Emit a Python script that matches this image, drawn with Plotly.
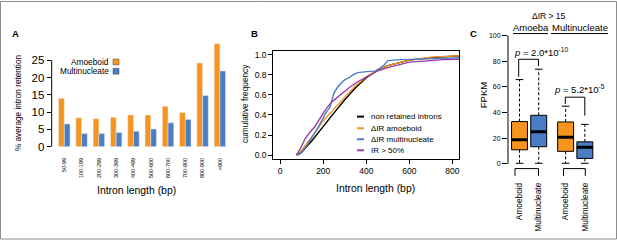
import plotly.graph_objects as go

W, H = 617, 246
FONT = "Liberation Sans, Arial, Helvetica, sans-serif"

# ---------------- data ----------------
# Panel A
length_bins = ["50-99", "100-199", "200-299", "300-399", "400-499",
               "500-600", "600-700", "700-800", "800-900", ">900"]
ir_amoeboid = [14.0, 8.4, 8.1, 8.5, 9.2, 9.2, 11.7, 9.9, 24.2, 29.8]
ir_multinucleate = [6.6, 3.8, 3.8, 4.1, 4.5, 5.1, 6.9, 7.9, 14.8, 21.9]
a_yticks = [0, 5, 10, 15, 20, 25]

# Panel B (cumulative frequency curves)
nonret_x = [80, 100, 150, 200, 250, 300, 350, 400, 450, 500, 600, 700, 800, 850]
nonret_y = [0.0, 0.03, 0.15, 0.29, 0.42, 0.55, 0.67, 0.77, 0.84, 0.89, 0.945, 0.97, 0.985, 0.99]
amoe_x = [78, 100, 150, 200, 250, 300, 350, 400, 450, 500, 600, 700, 800, 850]
amoe_y = [0.0, 0.05, 0.19, 0.34, 0.46, 0.58, 0.69, 0.78, 0.845, 0.89, 0.945, 0.975, 0.985, 0.99]
multi_x = [75, 100, 125, 150, 175, 200, 215, 230, 240, 250, 265, 280, 300, 320, 340,
           360, 400, 440, 460, 480, 500, 560, 650, 750, 850]
multi_y = [0.0, 0.03, 0.10, 0.18, 0.27, 0.37, 0.43, 0.47, 0.55, 0.62, 0.67, 0.71, 0.75, 0.77, 0.80,
           0.82, 0.83, 0.835, 0.86, 0.89, 0.94, 0.95, 0.955, 0.965, 0.97]
ir50_x = [75, 95, 115, 135, 160, 185, 210, 240, 280, 320, 360, 400, 450, 500, 550,
          600, 700, 760, 850]
ir50_y = [0.0, 0.07, 0.16, 0.22, 0.28, 0.36, 0.45, 0.53, 0.60, 0.67, 0.73, 0.78, 0.835, 0.87, 0.90,
          0.925, 0.94, 0.95, 0.955]
b_xticks = [0, 200, 400, 600, 800]
b_yticks = [0.0, 0.2, 0.4, 0.6, 0.8, 1.0]

# Panel C (boxplots)
box_labels = ["Amoeboid", "Multinucleate", "Amoeboid", "Multinucleate"]
box_pos = [1, 2, 3.4, 4.4]
box_q1 = [11.0, 13.4, 9.8, 4.3]
box_med = [18.9, 25.0, 20.8, 12.9]
box_q3 = [33.0, 37.9, 32.7, 17.2]
box_low = [0.5, 0.5, 0.5, 0.5]
box_up = [65.7, 73.8, 45.0, 30.8]
c_yticks = [0, 20, 40, 60, 80, 100]

ORANGE = "#F7941E"
BLUE = "#4A7DC4"
PURPLE = "#9A3EA6"
box_colors = [ORANGE, BLUE, ORANGE, BLUE]


def P(x):
    return x / W


def Q(y):
    return 1 - y / H


fig = go.Figure()

# ---------- Panel A ----------
fig.add_trace(go.Bar(x=length_bins, y=ir_amoeboid, marker_color=ORANGE,
                     xaxis="x", yaxis="y", showlegend=False))
fig.add_trace(go.Bar(x=length_bins, y=ir_multinucleate, marker_color=BLUE,
                     xaxis="x", yaxis="y", showlegend=False))

# ---------- Panel B ----------
for xs, ys, col in [(nonret_x, nonret_y, "black"), (amoe_x, amoe_y, ORANGE),
                    (multi_x, multi_y, BLUE), (ir50_x, ir50_y, PURPLE)]:
    fig.add_trace(go.Scatter(x=xs, y=ys, mode="lines", line=dict(color=col, width=1.4),
                             xaxis="x2", yaxis="y2", showlegend=False, hoverinfo="skip"))

# ---------- Panel C ----------
for i in range(len(box_pos)):
    fig.add_trace(go.Box(x=[box_pos[i]], q1=[box_q1[i]], median=[box_med[i]], q3=[box_q3[i]],
                         lowerfence=[box_q1[i]], upperfence=[box_q3[i]],
                         width=0.83, whiskerwidth=0, fillcolor=box_colors[i],
                         line=dict(color="black", width=1),
                         xaxis="x3", yaxis="y3", showlegend=False, hoverinfo="skip"))
    # dashed whiskers
    fig.add_trace(go.Scatter(x=[box_pos[i], box_pos[i], None, box_pos[i], box_pos[i]],
                             y=[box_q3[i], box_up[i], None, box_q1[i], box_low[i]],
                             mode="lines", line=dict(color="black", width=1, dash="3px,2px"),
                             xaxis="x3", yaxis="y3", showlegend=False, hoverinfo="skip"))
    # caps
    fig.add_trace(go.Scatter(x=[box_pos[i] - 0.2, box_pos[i] + 0.2, None,
                                box_pos[i] - 0.2, box_pos[i] + 0.2],
                             y=[box_up[i], box_up[i], None, box_low[i], box_low[i]],
                             mode="lines", line=dict(color="black", width=1),
                             xaxis="x3", yaxis="y3", showlegend=False, hoverinfo="skip"))
    # thick median
    fig.add_trace(go.Scatter(x=[box_pos[i] - 0.415, box_pos[i] + 0.415],
                             y=[box_med[i], box_med[i]],
                             mode="lines", line=dict(color="black", width=3),
                             xaxis="x3", yaxis="y3", showlegend=False, hoverinfo="skip"))

tickfont = dict(family=FONT, color="black")

fig.update_layout(
    width=W, height=H,
    margin=dict(l=0, r=0, t=0, b=0),
    paper_bgcolor="white", plot_bgcolor="rgba(0,0,0,0)",
    font=dict(family=FONT, color="black"),
    barmode="group", bargap=0.34, bargroupgap=0,
    boxmode="overlay",
    xaxis=dict(domain=[P(51.7), P(232)], range=[-0.73, 9.7], type="category",
               showline=False, showgrid=False, zeroline=False, ticks="",
               tickangle=-90, tickfont=dict(tickfont, size=5.5), ticklabelstandoff=9,
               anchor="y"),
    yaxis=dict(domain=[Q(150), Q(40)], range=[0, 30.9], showline=False, showgrid=False,
               zeroline=False, ticks="outside", ticklen=4, tickcolor="black",
               tickvals=a_yticks, tickfont=dict(tickfont, size=11.5), anchor="x"),
    xaxis2=dict(domain=[P(273.3), P(459.3)], range=[-32, 832], showline=True, mirror=True,
                linecolor="black", linewidth=1, showgrid=False, zeroline=False,
                ticks="outside", ticklen=4, tickcolor="black", tickvals=b_xticks,
                tickfont=dict(tickfont, size=8.5), anchor="y2"),
    yaxis2=dict(domain=[Q(162.8), Q(51)], range=[-0.04, 1.04], showline=True, mirror=True,
                linecolor="black", linewidth=1, showgrid=False, zeroline=False,
                ticks="outside", ticklen=4, tickcolor="black", tickvals=b_yticks,
                tickformat=".1f", tickfont=dict(tickfont, size=8.5), anchor="x2"),
    xaxis3=dict(domain=[P(508), P(600)], range=[0.4, 5.19], showline=False, showgrid=False,
                zeroline=False, ticks="", tickvals=box_pos, ticktext=box_labels,
                tickangle=-90, tickfont=dict(tickfont, size=8.3), ticklabelstandoff=12,
                anchor="y3"),
    yaxis3=dict(domain=[Q(172), Q(30)], range=[-3.25, 104.2], showline=False, showgrid=False,
                zeroline=False, ticks="outside", ticklen=5, tickcolor="black",
                tickvals=c_yticks, tickfont=dict(tickfont, size=7), anchor="x3"),
)

shapes = []
# A axis line (0..25)
shapes.append(dict(type="line", xref="paper", yref="y", x0=P(51.7), x1=P(51.7),
                   y0=a_yticks[0], y1=a_yticks[-1], line=dict(color="black", width=1)))
# C axis line (0..100)
shapes.append(dict(type="line", xref="paper", yref="y3", x0=P(508), x1=P(508),
                   y0=c_yticks[0], y1=c_yticks[-1], line=dict(color="black", width=1)))
# A legend squares
for y0, col in [(59.7, ORANGE), (69.3, BLUE)]:
    shapes.append(dict(type="rect", xref="paper", yref="paper", x0=P(113), x1=P(119),
                       y0=Q(y0), y1=Q(y0 + 6), fillcolor=col, line=dict(color="#444", width=0.5)))
# B legend lines
for yy, col in [(119, "black"), (131, ORANGE), (142.3, BLUE), (153.7, PURPLE)]:
    shapes.append(dict(type="line", xref="paper", yref="paper", x0=P(357), x1=P(364),
                       y0=Q(yy), y1=Q(yy), line=dict(color=col, width=2)))


def seg(x0, y0, x1, y1, w=1, col="black"):
    shapes.append(dict(type="line", xref="paper", yref="paper", x0=P(x0), x1=P(x1),
                       y0=Q(y0), y1=Q(y1), line=dict(color=col, width=w)))


# C header underlines
seg(513, 33.5, 548, 33.5)
seg(551, 33.5, 608, 33.5)
# C p-value brackets
seg(518.7, 60, 538.5, 60); seg(518.7, 60, 518.7, 78); seg(538.5, 60, 538.5, 67)
seg(565.3, 99, 584.8, 99); seg(565.3, 99, 565.3, 106); seg(584.8, 99, 584.8, 118)
# C bottom brackets
seg(515, 172.5, 538.5, 172.5); seg(515, 172.5, 515, 180); seg(538.5, 172.5, 538.5, 180)
seg(563.5, 172.5, 585.3, 172.5); seg(563.5, 172.5, 563.5, 180); seg(585.3, 172.5, 585.3, 180)
# outer frame
shapes.append(dict(type="rect", xref="paper", yref="paper", x0=P(0.5), x1=P(616.5),
                   y0=Q(245), y1=Q(0.5), line=dict(color="#8c8c8c", width=1)))

fig.update_layout(shapes=shapes)

ann = []


def text(x, y, s, size, xanchor="center", angle=0, bold=False):
    ann.append(dict(x=P(x), y=Q(y), xref="paper", yref="paper", text=("<b>%s</b>" % s) if bold else s,
                    showarrow=False, xanchor=xanchor, yanchor="middle", textangle=angle,
                    font=dict(family=FONT, size=size, color="black")))


# Panel A
text(15, 33, "A", 9.5, bold=True)
text(18, 105, "% average intron retention", 8.2, angle=-90)
text(136, 195, "Intron length (bp)", 10.4)
text(110.5, 62.7, "Amoeboid", 8.3, xanchor="right")
text(110.5, 72.3, "Multinucleate", 8.3, xanchor="right")
# Panel B
text(254, 33, "B", 9.5, bold=True)
text(245, 106, "cumulative frequency", 8.3, angle=-90)
text(375, 193, "Intron length (bp)", 10.4)
for yy, s in [(119, "non retained introns"), (131, "ΔIR amoeboid"),
              (142.3, "ΔIR multinucleate"), (153.7, "IR &gt; 50%")]:
    text(369, yy, s, 8, xanchor="left")
# Panel C
text(473.5, 33, "C", 9.5, bold=True)
text(549, 15, "ΔIR &gt; 15", 8.5)
text(531, 27.5, "Amoeba", 9.5)
text(580, 27.5, "Multinucleate", 9.5)
text(483, 97, "FPKM", 9.5, angle=-90)
text(541, 52.5, "<i>p</i> = 2.0*10<sup>-10</sup>", 9.5)
text(579, 90.5, "<i>p</i> = 5.2*10<sup>-5</sup>", 9.5)

fig.update_layout(annotations=ann)

fig.write_html("out.html", config={"displayModeBar": False},
               post_script="document.body.style.margin='0';document.body.style.overflow='hidden';")
